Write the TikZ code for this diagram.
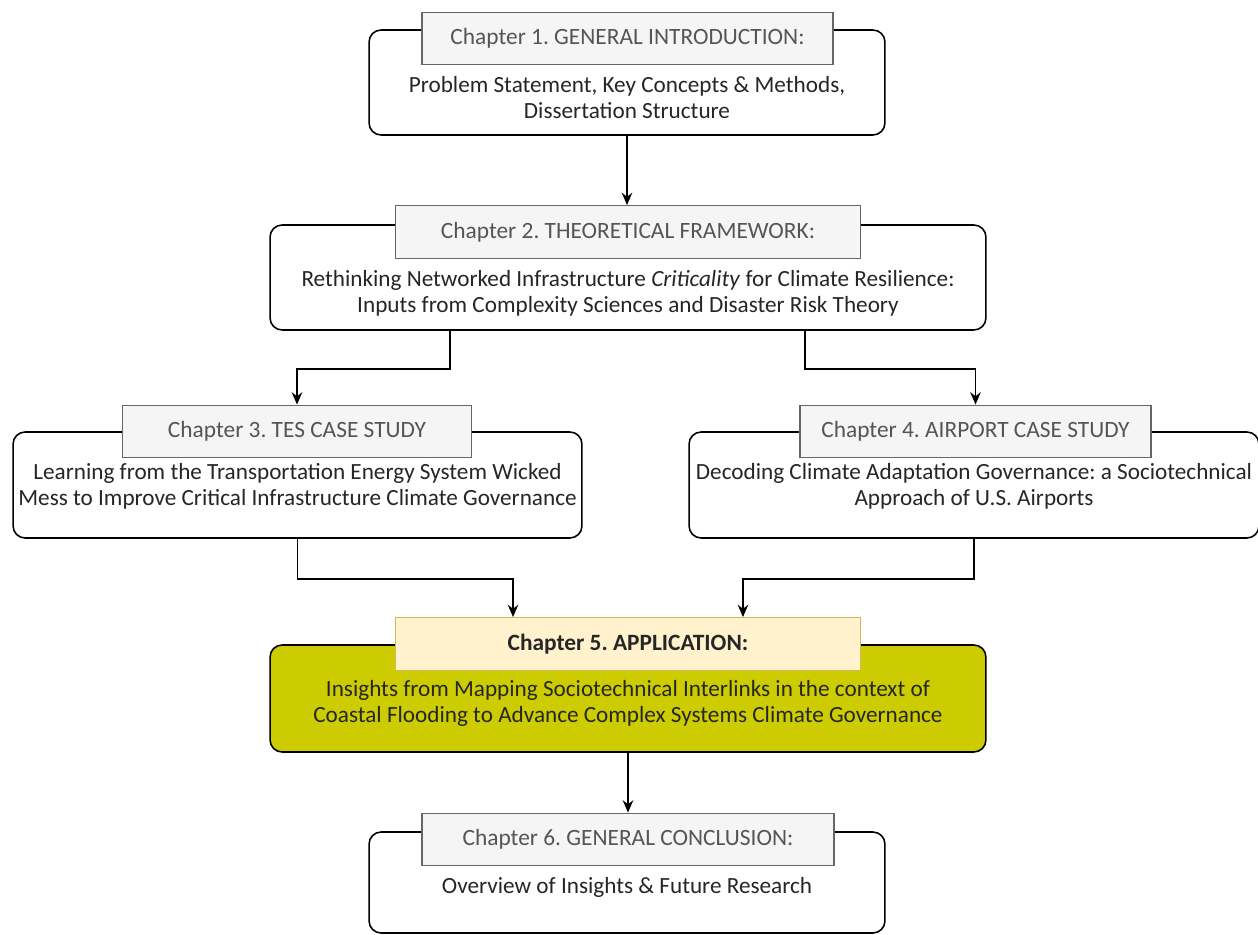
\documentclass[tikz,border=0pt]{standalone}
\usepackage{fontspec}
\setmainfont{Carlito}
\usetikzlibrary{arrows.meta}
\frenchspacing
\definecolor{hdrfill}{HTML}{F5F5F5}
\definecolor{hdrline}{HTML}{666666}
\definecolor{hdrtext}{HTML}{555555}
\definecolor{appfill}{HTML}{CCCC00}
\definecolor{apphdr}{HTML}{FFF2CC}
\definecolor{apphdrline}{HTML}{D6B656}
\tikzset{
  chapbox/.style={draw=black, line width=0.9pt, rounded corners=0.24cm, fill=white},
  chaphdr/.style={draw=hdrline, line width=0.8pt, fill=hdrfill, text=hdrtext, minimum height=1.05cm, font=\fontsize{13.3}{15}\selectfont},
  chaptxt/.style={align=center, font=\fontsize{13.2}{14.8}\selectfont, text=black!85},
  flow/.style={line width=0.9pt, -{Stealth[length=7pt,width=6pt]}}
}
\begin{document}
\begin{tikzpicture}[x=0.02cm, y=-0.02cm]
  \useasboundingbox (0,0) rectangle (1258,935);

  % chapter 1
  \node[chapbox, minimum width=10.32cm, minimum height=2.1cm] (box1) at (627,82.5) {};
  \node[chaphdr, minimum width=8.22cm] (hdr1) at (627.5,38.5) {Chapter 1. GENERAL INTRODUCTION:};
  \node[chaptxt] (txt1) at (627,97.5) {Problem Statement, Key Concepts \& Methods,\\Dissertation Structure};

  % chapter 2
  \node[chapbox, minimum width=14.32cm, minimum height=2.1cm] (box2) at (628,277.5) {};
  \node[chaphdr, minimum width=9.3cm] (hdr2) at (628,232) {Chapter 2. THEORETICAL FRAMEWORK:};
  \node[chaptxt] (txt2) at (628,293.5) {Rethinking Networked Infrastructure \textit{Criticality} for Climate Resilience:\\Inputs from Complexity Sciences and Disaster Risk Theory};

  % chapters 3 and 4
  \node[chapbox, minimum width=11.38cm, minimum height=2.12cm] (box3) at (297.5,485) {};
  \node[chaphdr, minimum width=6.98cm] (hdr3) at (297,431.5) {Chapter 3. TES CASE STUDY};
  \node[chaptxt] (txt3) at (297.5,486) {Learning from the Transportation Energy System Wicked\\Mess to Improve Critical Infrastructure Climate Governance};

  \node[chapbox, minimum width=11.4cm, minimum height=2.12cm] (box4) at (974,485) {};
  \node[chaphdr, minimum width=7.02cm] (hdr4) at (975.5,431.5) {Chapter 4. AIRPORT CASE STUDY};
  \node[chaptxt] (txt4) at (974,486) {Decoding Climate Adaptation Governance: a Sociotechnical\\Approach of U.S. Airports};

  % chapter 5
  \node[chapbox, fill=appfill, minimum width=14.32cm, minimum height=2.14cm] (box5) at (628,698.5) {};
  \node[chaphdr, draw=apphdrline, fill=apphdr, text=black!85, minimum width=9.3cm, font=\fontsize{13.3}{15}\selectfont\bfseries] (hdr5) at (628,644) {Chapter 5. APPLICATION:};
  \node[chaptxt] (txt5) at (628,703.5) {Insights from Mapping Sociotechnical Interlinks in the context of\\Coastal Flooding to Advance Complex Systems Climate Governance};

  % chapter 6
  \node[chapbox, minimum width=10.32cm, minimum height=2.02cm] (box6) at (627,882.5) {};
  \node[chaphdr, minimum width=8.24cm] (hdr6) at (628,839.5) {Chapter 6. GENERAL CONCLUSION:};
  \node[chaptxt] (txt6) at (627,887) {Overview of Insights \& Future Research};

  \draw[flow] (box1.south) -- (box1.south |- hdr2.north);
  \draw[flow] ([xshift=-3.56cm]box2.south) -- ++(0,38) -| (hdr3.north);
  \draw[flow] ([xshift=3.54cm]box2.south) -- ++(0,38) -| (hdr4.north);
  \draw[flow] (box3.south) -- ++(0,40) -| ([xshift=-2.3cm]hdr5.north);
  \draw[flow] (box4.south) -- ++(0,40) -| ([xshift=2.3cm]hdr5.north);
  \draw[flow] (box5.south) -- (box5.south |- hdr6.north);
\end{tikzpicture}
\end{document}
